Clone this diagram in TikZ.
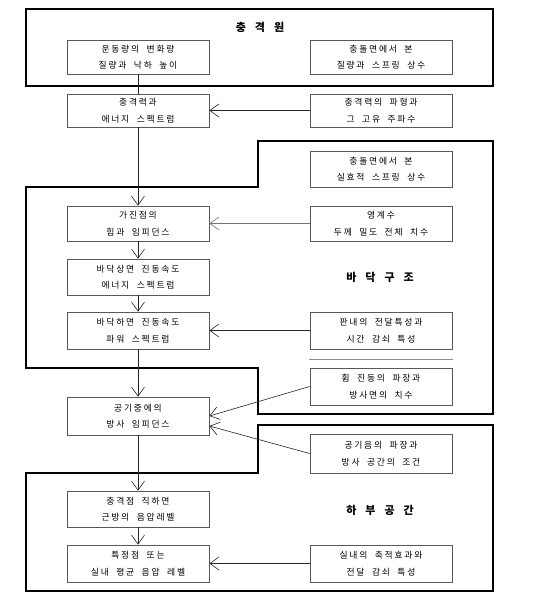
\documentclass[tikz,border=0pt]{standalone}
\usepackage{fontspec}
\usetikzlibrary{arrows.meta}
\newfontfamily\kr[LetterSpace=20,WordSpace=2]{Noto Sans CJK KR}
\newfontfamily\krt{Noto Sans CJK KR}
\tikzset{
  box/.style={draw=black!65, line width=0.8pt, minimum width=142pt, align=center,
    inner sep=0pt, font=\kr\fontsize{8.8}{16.5}\selectfont},
  frame/.style={draw=black, line width=1.8pt},
  conn/.style={draw=black!85, line width=0.6pt},
  arr/.style={conn, -{Straight Barb[length=9pt,width=13pt,line width=0.6pt]}},
  ttl/.style={font=\krt\bfseries\fontsize{11}{12}\selectfont}
}
\newcommand{\gap}{\hspace{9pt}}
\begin{document}
\begin{tikzpicture}[x=1pt,y=-1pt]
\useasboundingbox (0,0) rectangle (538,607);
\fill[white] (0,0) rectangle (538,607);
% frames
\draw[frame] (26,9) rectangle (493,86);
\draw[frame] (258,141) -- (493,141) -- (493,414) -- (258,414) -- (258,368) -- (26,368) -- (26,187) -- (258,187) -- cycle;
\draw[frame] (258,425) -- (493,425) -- (493,591) -- (26,591) -- (26,473) -- (258,473) -- cycle;
\draw[black!45, line width=0.8pt] (309,359) -- (453,359);
% titles
\node[ttl] (t1) at (260,27) {충\gap 격\gap 원};
\node[ttl] (t2) at (380,277) {바\gap 닥\gap 구\gap 조};
\node[ttl] (t3) at (380,510) {하\gap 부\gap 공\gap 간};
% boxes
\node[box, minimum height=34pt] (b1) at (138,57) {운동량의 변화량\\질량과 낙하 높이};
\node[box, minimum height=34pt] (b2) at (381,57) {충돌면에서 본\\질량과 스프링 상수};
\node[box, minimum height=33pt] (b3) at (138,110.5) {충격력과\\에너지 스펙트럼};
\node[box, minimum height=33pt] (b4) at (381,110.5) {충격력의 파형과\\그 고유 주파수};
\node[box, minimum height=36pt] (b5) at (381,169) {충돌면에서 본\\실효적 스프링 상수};
\node[box, minimum height=35pt] (b6) at (138,223.5) {가진점의\\힘과 임피던스};
\node[box, minimum height=35pt] (b7) at (381,223.5) {영계수\\두께 밀도 전체 치수};
\node[box, minimum height=36pt] (b8) at (138,277) {바닥상면 진동속도\\에너지 스펙트럼};
\node[box, minimum height=37pt] (b9) at (138,330.5) {바닥하면 진동속도\\파워 스펙트럼};
\node[box, minimum height=37pt] (b10) at (381,330.5) {판내의 전달특성과\\시간 감쇠 특성};
\node[box, minimum height=37pt] (b11) at (381,386.5) {휨 진동의 파장과\\방사면의 치수};
\node[box, minimum height=38pt] (b12) at (138,416) {공기중에의\\방사 임피던스};
\node[box, minimum height=39pt] (b13) at (381,453.5) {공기음의 파장과\\방사 공간의 조건};
\node[box, minimum height=36pt] (b14) at (138,509) {충격점 직하면\\근방의 음압레벨};
\node[box, minimum height=37pt] (b15) at (138,563.5) {특정점 또는\\실내 평균 음압 레벨};
\node[box, minimum height=37pt] (b16) at (381,563.5) {실내의 축적효과와\\전달 감쇠 특성};
% connectors
\draw[conn] (b1.south) -- (b3.north);
\draw[arr] (b4.west) -- (b3.east);
\draw[arr] (b3.south) -- (b6.north);
\draw[arr, draw=black!55] (b7.west) -- (b6.east);
\draw[arr] (b6.south) -- (b8.north);
\draw[arr] (b8.south) -- (b9.north);
\draw[arr] (b10.west) -- (b9.east);
\draw[arr] (b9.south) -- (b12.north);
\draw[arr] (b11.west) -- (b12.east);
\draw[arr] (b13.west) -- ([yshift=-10pt]b12.east);
\draw[arr] (b12.south) -- (b14.north);
\draw[arr] (b14.south) -- (b15.north);
\draw[arr] (b16.west) -- (b15.east);
\end{tikzpicture}
\end{document}
